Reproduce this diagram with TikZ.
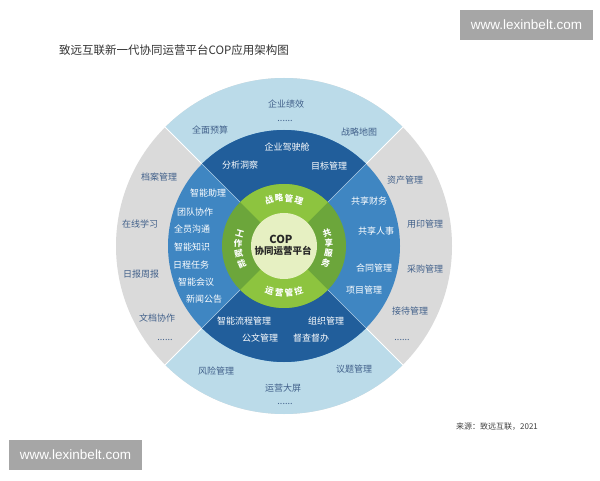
\documentclass[tikz,border=0pt]{standalone}
\usepackage{fontspec}
\setmainfont{Noto Sans CJK SC}
\newfontfamily\wmfont{Liberation Sans}
\definecolor{ltblue}{HTML}{BBDBE9}
\definecolor{ringgray}{HTML}{DADADA}
\definecolor{dkblue}{HTML}{215E9B}
\definecolor{mdblue}{HTML}{3F86C2}
\definecolor{ltgreen}{HTML}{8DC43F}
\definecolor{dkgreen}{HTML}{6CA63B}
\definecolor{palegreen}{HTML}{E6F0C2}
\definecolor{outtext}{HTML}{41608A}
\definecolor{wmgray}{HTML}{A6A6A6}
\begin{document}
\begin{tikzpicture}[x=1pt,y=1pt,
  outtxt/.style={text=outtext, font=\fontsize{9}{10}\selectfont, inner sep=0pt},
  intxt/.style={text=white, font=\fontsize{9}{10}\selectfont, inner sep=0pt},
  dotstxt/.style={text=outtext, font=\fontsize{9}{10}\selectfont, inner sep=0pt},
  grtxt/.style={text=white, font=\bfseries\fontsize{8.5}{10}\selectfont, inner sep=0pt},
  wmbox/.style={fill=wmgray, text=white, minimum width=133pt, minimum height=30pt, inner sep=0pt, font=\wmfont\fontsize{13.5}{15}\selectfont},
  sep/.style={white, line width=0.8pt}]
\useasboundingbox (0,0) rectangle (600,480);
\fill[white] (0,0) rectangle (600,480);

% title and source
\node[anchor=west, text=black!80, font=\fontsize{11.5}{13}\selectfont, inner sep=0pt] (title) at (59,430) {致远互联新一代协同运营平台COP应用架构图};
\node[text=black!75, font=\fontsize{8}{9}\selectfont, inner sep=0pt] (source) at (497,53) {来源：致远互联，2021};

% watermarks
\node[wmbox] (wm1) at (526.5,455) {www.lexinbelt.com};
\node[wmbox] (wm2) at (75.5,25) {www.lexinbelt.com};

\begin{scope}[shift={(284,234)}]
  % outer ring
  \fill[ringgray] (0,0) circle (168);
  \fill[ltblue] (0,0) -- (45:168) arc (45:135:168) -- cycle;
  \fill[ltblue] (0,0) -- (225:168) arc (225:315:168) -- cycle;
  \foreach \a in {45,135,225,315} \draw[sep] (\a:116) -- (\a:168.5);
  % blue ring
  \fill[mdblue] (0,0) circle (116);
  \fill[dkblue] (0,0) -- (45:116) arc (45:135:116) -- cycle;
  \fill[dkblue] (0,0) -- (225:116) arc (225:315:116) -- cycle;
  \foreach \a in {45,135,225,315} \draw[white!60!mdblue, line width=0.6pt] (\a:62) -- (\a:116);
  % green ring
  \fill[dkgreen] (0,0) circle (62);
  \fill[ltgreen] (0,0) -- (45:62) arc (45:135:62) -- cycle;
  \fill[ltgreen] (0,0) -- (225:62) arc (225:315:62) -- cycle;
  % centre
  \fill[palegreen] (0,0) circle (33);

  % green ring labels
  \foreach \c/\a [count=\i] in {战/108,略/96,管/84,理/72}
    \node[grtxt, rotate=\a-90] (gtop\i) at (\a:48) {\c};
  \foreach \c/\a [count=\i] in {运/252,营/264,管/276,控/288}
    \node[grtxt, rotate=\a+90] (gbot\i) at (\a:47) {\c};
  \foreach \c/\a [count=\i] in {工/164,作/177,赋/190,能/203}
    \node[grtxt, rotate=\a-180] (gleft\i) at (\a:46) {\c};
  \foreach \c/\a [count=\i] in {共/17,享/4,服/-9,务/-22}
    \node[grtxt, rotate=\a] (gright\i) at (\a:45) {\c};
\end{scope}

% centre text
\node[text=black!85, font=\bfseries\fontsize{11}{12}\selectfont, inner sep=0pt] (cop) at (281,241) {COP};
\node[text=black!85, font=\bfseries\fontsize{9.5}{11}\selectfont, inner sep=0pt] (cop2) at (283,229) {协同运营平台};

% outer ring labels
\node[outtxt] (o1) at (286,376) {企业绩效};
\node[dotstxt] (o1d) at (285,359) {......};
\node[outtxt] (o2) at (210,350) {全面预算};
\node[outtxt] (o3) at (359,348) {战略地图};
\node[outtxt] (o4) at (159,303) {档案管理};
\node[outtxt] (o5) at (140,256) {在线学习};
\node[outtxt] (o6) at (141,206) {日报周报};
\node[outtxt] (o7) at (157,162) {文档协作};
\node[dotstxt] (o7d) at (165,140) {......};
\node[outtxt] (o8) at (405,300) {资产管理};
\node[outtxt] (o9) at (425,256) {用印管理};
\node[outtxt] (o10) at (425,211) {采购管理};
\node[outtxt] (o11) at (410,169) {接待管理};
\node[dotstxt] (o11d) at (402,140) {......};
\node[outtxt] (o12) at (216,109) {风险管理};
\node[outtxt] (o13) at (283,92) {运营大屏};
\node[dotstxt] (o13d) at (285,76) {......};
\node[outtxt] (o14) at (354,111) {议题管理};

% blue ring labels
\node[intxt] (b1) at (287,333) {企业驾驶舱};
\node[intxt] (b2) at (240,315) {分析洞察};
\node[intxt] (b3) at (329,314) {目标管理};
\node[intxt] (b4) at (208,287) {智能助理};
\node[intxt] (b5) at (195,268) {团队协作};
\node[intxt] (b6) at (192,251) {全员沟通};
\node[intxt] (b7) at (192,233) {智能知识};
\node[intxt] (b8) at (191,215) {日程任务};
\node[intxt] (b9) at (196,198) {智能会议};
\node[intxt] (b10) at (204,181) {新闻公告};
\node[intxt] (b11) at (369,279) {共享财务};
\node[intxt] (b12) at (376,249) {共享人事};
\node[intxt] (b13) at (374,212) {合同管理};
\node[intxt] (b14) at (364,190) {项目管理};
\node[intxt] (b15) at (244,159) {智能流程管理};
\node[intxt] (b16) at (326,159) {组织管理};
\node[intxt] (b17) at (260,142) {公文管理};
\node[intxt] (b18) at (311,142) {督查督办};
\end{tikzpicture}
\end{document}
